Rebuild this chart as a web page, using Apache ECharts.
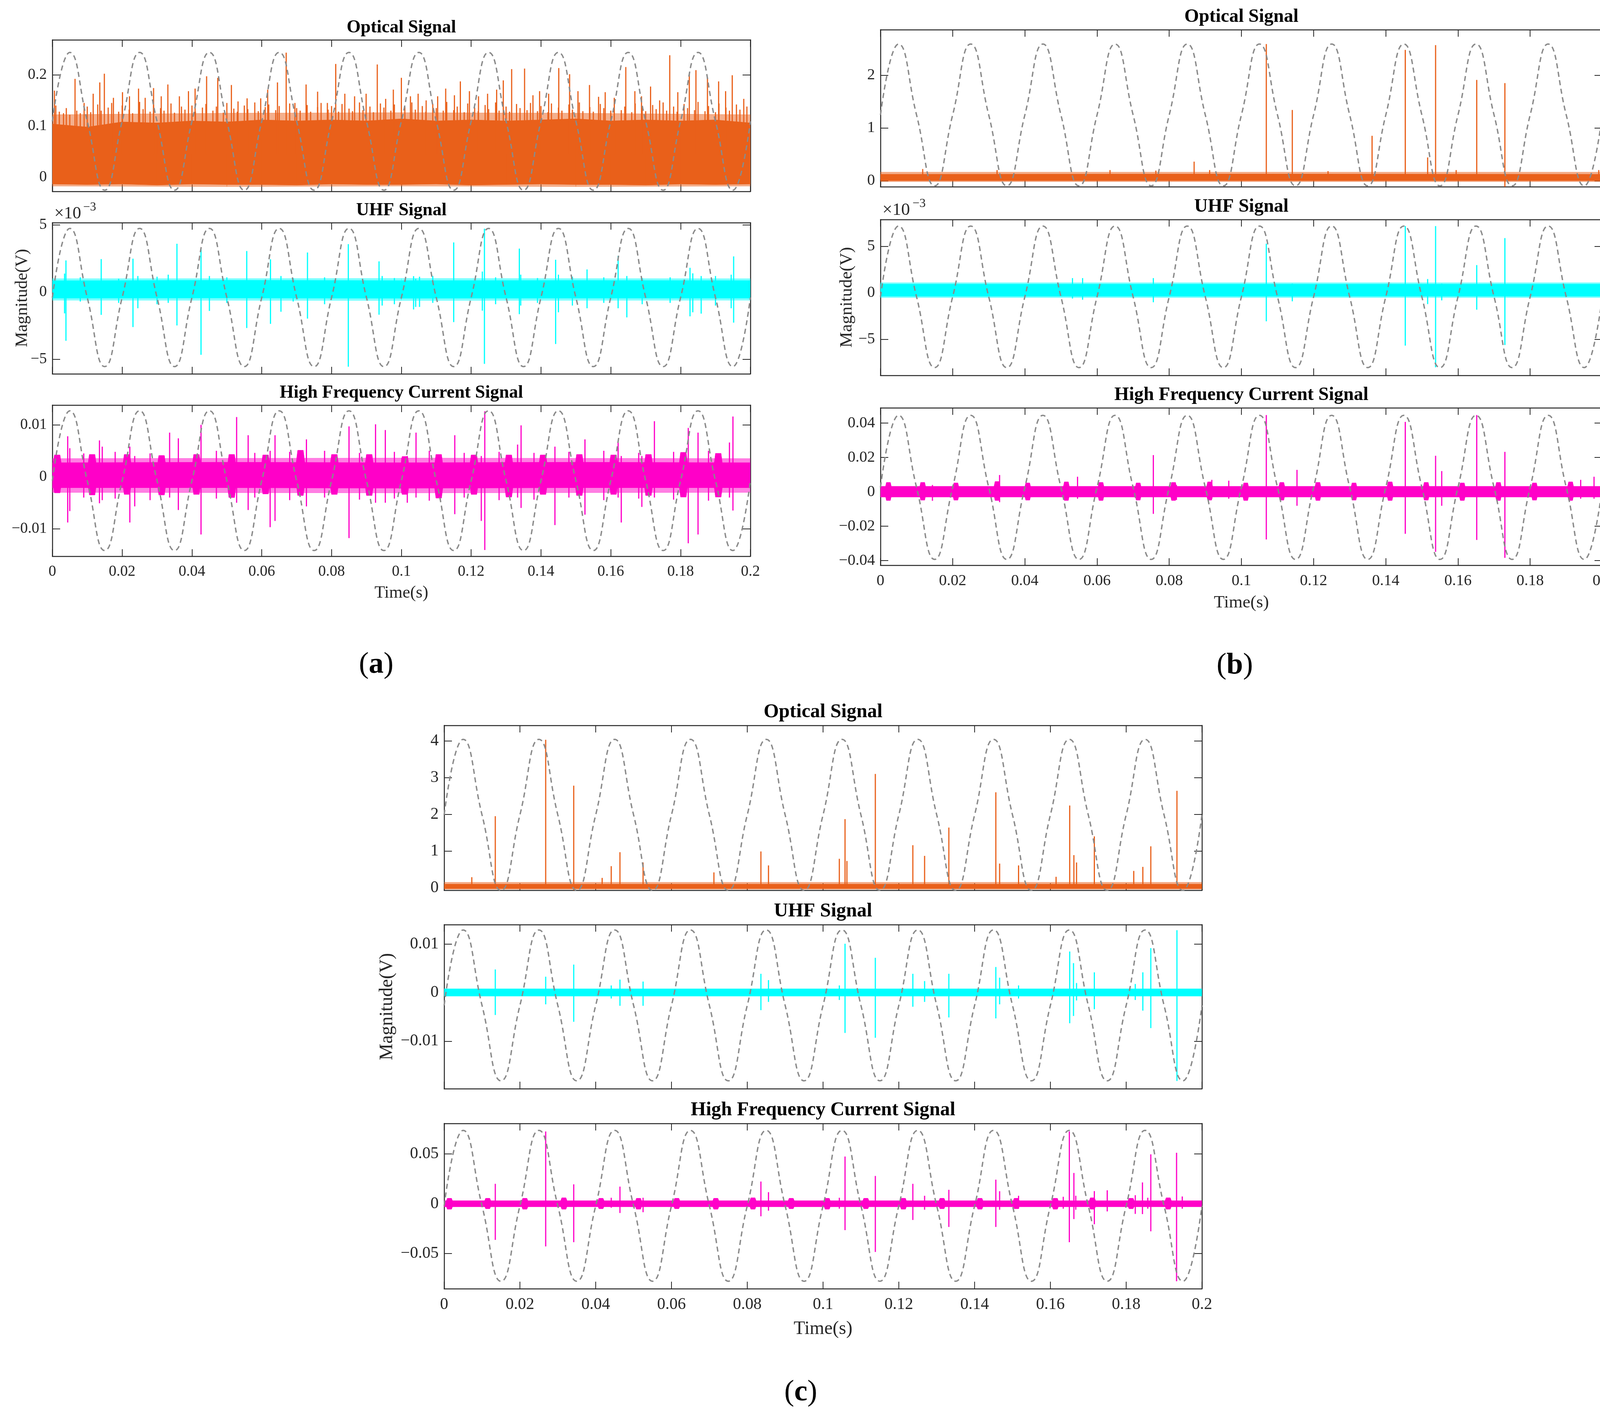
<!DOCTYPE html>
<html>
<head>
<meta charset="utf-8">
<script src="https://cdn.jsdelivr.net/npm/echarts@6/dist/echarts.min.js"></script>
<style>
  html, body { margin: 0; padding: 0; background: #fff; overflow: hidden; }
  #main { width: 4154px; height: 3630px; }
</style>
</head>
<body>
<div id="main"></div>
<script>
// ---- data ----
// x axis (time, s)
var timeTicks = [0, 0.02, 0.04, 0.06, 0.08, 0.1, 0.12, 0.14, 0.16, 0.18, 0.2];

// reference 50 Hz wave: [peak, trough] per panel
var optA_sine = [0.2435, -0.025];
var uhfA_sine = [4.74, -5.54];          // x1e-3
var hfA_sine  = [0.0127, -0.0142];
var optB_sine = [2.59, -0.10];
var uhfB_sine = [7.2, -8.03];           // x1e-3
var hfB_sine  = [0.0445, -0.0393];
var optC_sine = [4.04, -0.07];
var uhfC_sine = [0.01294, -0.01817];
var hfC_sine  = [0.0736, -0.0778];

// y ticks
var optA_ticks = [0, 0.1, 0.2];
var uhfA_ticks = [-5, 0, 5];
var hfA_ticks  = [-0.01, 0, 0.01];
var optB_ticks = [0, 1, 2];
var uhfB_ticks = [-5, 0, 5];
var hfB_ticks  = [-0.04, -0.02, 0, 0.02, 0.04];
var optC_ticks = [0, 1, 2, 3, 4];
var uhfC_ticks = [-0.01, 0, 0.01];
var hfC_ticks  = [-0.05, 0, 0.05];

// noise floor envelope: [t, upper, lower]
var optA_band = [[0,0.104,-0.013],[0.01,0.098,-0.014],[0.02,0.108,-0.013],[0.03,0.106,-0.015],[0.04,0.11,-0.013],
  [0.05,0.108,-0.014],[0.06,0.112,-0.014],[0.07,0.11,-0.015],[0.08,0.112,-0.013],[0.09,0.11,-0.014],[0.1,0.114,-0.014],
  [0.11,0.11,-0.013],[0.12,0.112,-0.015],[0.13,0.11,-0.014],[0.14,0.112,-0.013],[0.15,0.114,-0.014],[0.16,0.11,-0.014],
  [0.17,0.112,-0.015],[0.18,0.11,-0.013],[0.19,0.112,-0.014],[0.2,0.106,-0.013]];
var optA_haze = [[0,0.122,-0.017],[0.05,0.125,-0.018],[0.1,0.126,-0.017],[0.15,0.125,-0.018],[0.2,0.122,-0.017]];
var uhfA_band = [[0,0.85,-0.45],[0.05,0.88,-0.44],[0.1,0.86,-0.46],[0.15,0.87,-0.45],[0.2,0.86,-0.45]];
var uhfA_haze = [[0,1.0,-0.6],[0.1,1.02,-0.62],[0.2,1.0,-0.6]];
var hfA_band  = [[0,0.0027,-0.0021],[0.05,0.0028,-0.0021],[0.1,0.0027,-0.0022],[0.15,0.0028,-0.0021],[0.2,0.0027,-0.0021]];
var hfA_haze  = [[0,0.0035,-0.003],[0.1,0.0036,-0.0031],[0.2,0.0035,-0.003]];
var optB_band = [[0,0.12,0.0],[0.1,0.125,0.0],[0.2,0.12,0.0]];
var optB_haze = [[0,0.16,-0.02],[0.2,0.16,-0.02]];
var uhfB_band = [[0,0.95,-0.35],[0.2,0.95,-0.35]];
var uhfB_haze = [[0,1.1,-0.5],[0.2,1.1,-0.5]];
var hfB_band  = [[0,0.0032,-0.003],[0.2,0.0032,-0.003]];
var optC_band = [[0,0.1,-0.02],[0.2,0.1,-0.02]];
var optC_haze = [[0,0.15,-0.04],[0.2,0.15,-0.04]];
var uhfC_band = [[0,0.0008,-0.0007],[0.2,0.0008,-0.0007]];
var hfC_band  = [[0,0.003,-0.003],[0.2,0.003,-0.003]];

// short bursts of the HF floor near the zero crossings: [t, upper, lower]
var hfA_bursts = [[0.0014,0.0042,-0.0031],[0.0114,0.0043,-0.0035],[0.0214,0.0043,-0.0034],[0.0313,0.0041,-0.0035],
  [0.0413,0.0043,-0.0034],[0.0514,0.0043,-0.004],[0.0611,0.0042,-0.0033],[0.0711,0.0051,-0.0036],[0.0808,0.0043,-0.0034],
  [0.0908,0.0043,-0.0036],[0.101,0.0039,-0.0034],[0.1107,0.0043,-0.0041],[0.1208,0.0042,-0.0034],[0.1308,0.0042,-0.0039],
  [0.1406,0.0042,-0.0034],[0.151,0.0043,-0.0036],[0.1608,0.0042,-0.0034],[0.1708,0.0043,-0.0036],[0.1808,0.0047,-0.0039],
  [0.1908,0.0045,-0.0039]];
var hfB_bursts = [[0.0022,0.0055,-0.005],[0.0117,0.0055,-0.0048],[0.0209,0.0052,-0.0048],[0.0323,0.006,-0.005],
  [0.0408,0.0052,-0.0048],[0.0515,0.0058,-0.005],[0.0611,0.0055,-0.005],[0.0714,0.0052,-0.0048],[0.0812,0.0055,-0.005],
  [0.0912,0.0058,-0.0048],[0.1012,0.0052,-0.005],[0.1112,0.0055,-0.0048],[0.1212,0.0055,-0.005],[0.1312,0.0052,-0.0048],
  [0.1412,0.0058,-0.005],[0.1512,0.0055,-0.0048],[0.1612,0.0052,-0.005],[0.1712,0.0055,-0.005],[0.1812,0.0052,-0.0048],
  [0.1912,0.0058,-0.005]];
var hfC_bursts = [[0.0014,0.0055,-0.0055],[0.0115,0.0055,-0.005],[0.0213,0.0055,-0.0055],[0.0316,0.006,-0.0055],
  [0.0414,0.0055,-0.005],[0.0513,0.0055,-0.0055],[0.0614,0.0055,-0.005],[0.0717,0.0055,-0.0055],[0.0815,0.006,-0.0055],
  [0.0916,0.0055,-0.005],[0.1011,0.0055,-0.0055],[0.1113,0.0055,-0.005],[0.1212,0.0055,-0.0055],[0.1314,0.0055,-0.005],
  [0.1414,0.0055,-0.0055],[0.151,0.0055,-0.005],[0.1613,0.0055,-0.0055],[0.1711,0.006,-0.0055],[0.1813,0.0055,-0.005],
  [0.1911,0.006,-0.0055]];

// discharge pulses: [t, top, bottom] (bottom omitted = inside the floor)
var optA_spikes = [[0.0006,0.169],[0.0032,0.125],[0.0065,0.192],[0.0091,0.145],[0.0117,0.163],[0.0136,0.185],[0.0149,0.202],
  [0.0175,0.155],[0.0201,0.166],[0.0221,0.158],[0.0247,0.173],[0.0266,0.155],[0.029,0.174],[0.0312,0.158],[0.0331,0.181],
  [0.0364,0.158],[0.039,0.168],[0.0409,0.173],[0.0442,0.197],[0.0474,0.194],[0.0513,0.18],[0.0532,0.148],[0.0558,0.154],
  [0.0597,0.154],[0.0617,0.171],[0.0645,0.185],[0.067,0.243],[0.0695,0.145],[0.0727,0.181],[0.076,0.167],[0.0788,0.145],
  [0.0812,0.221],[0.0838,0.163],[0.0866,0.158],[0.0899,0.163],[0.0931,0.22],[0.0955,0.153],[0.0977,0.171],[0.1,0.194],
  [0.1026,0.158],[0.1048,0.163],[0.1071,0.15],[0.1104,0.158],[0.1127,0.173],[0.1152,0.16],[0.1169,0.187],[0.1195,0.168],
  [0.1221,0.158],[0.1247,0.163],[0.1273,0.171],[0.1292,0.189],[0.1316,0.211],[0.1353,0.212],[0.1377,0.16],[0.1396,0.168],
  [0.1422,0.163],[0.1451,0.213],[0.1482,0.201],[0.1506,0.168],[0.1539,0.18],[0.1565,0.157],[0.1584,0.166],[0.161,0.155],
  [0.1643,0.215],[0.1669,0.168],[0.1688,0.158],[0.1714,0.177],[0.174,0.15],[0.1769,0.238],[0.1792,0.166],[0.1825,0.201],
  [0.1844,0.209],[0.1877,0.194],[0.1909,0.187],[0.1929,0.168],[0.1948,0.199],[0.1981,0.153]];
// denser, shorter pulses that make the ragged top of the optical floor in (a)
var optA_fringe = [[0.001,0.14],[0.002,0.128],[0.004,0.135],[0.005,0.122],[0.007,0.13],[0.008,0.125],[0.010,0.138],
  [0.011,0.127],[0.013,0.142],[0.014,0.13],[0.016,0.136],[0.017,0.145],[0.019,0.128],[0.020,0.14],[0.022,0.132],
  [0.023,0.125],[0.025,0.147],[0.026,0.133],[0.028,0.128],[0.029,0.141],[0.031,0.135],[0.032,0.13],[0.034,0.144],
  [0.035,0.126],[0.037,0.138],[0.038,0.132],[0.040,0.14],[0.041,0.128],[0.043,0.136],[0.044,0.143],[0.046,0.13],
  [0.047,0.138],[0.049,0.126],[0.050,0.145],[0.052,0.134],[0.053,0.128],[0.055,0.14],[0.056,0.133],[0.058,0.146],
  [0.059,0.129],[0.061,0.137],[0.062,0.142],[0.064,0.131],[0.065,0.139],[0.067,0.127],[0.068,0.144],[0.070,0.135],
  [0.071,0.13],[0.073,0.141],[0.074,0.128],[0.076,0.137],[0.077,0.145],[0.079,0.132],[0.080,0.139],[0.082,0.128],
  [0.083,0.143],[0.085,0.134],[0.086,0.129],[0.088,0.146],[0.089,0.131],[0.091,0.138],[0.092,0.127],[0.094,0.144],
  [0.095,0.136],[0.097,0.13],[0.098,0.142],[0.100,0.129],[0.101,0.137],[0.103,0.146],[0.104,0.132],[0.106,0.139],
  [0.107,0.128],[0.109,0.143],[0.110,0.135],[0.112,0.13],[0.113,0.147],[0.115,0.131],[0.116,0.138],[0.118,0.127],
  [0.119,0.144],[0.121,0.136],[0.122,0.129],[0.124,0.141],[0.125,0.133],[0.127,0.146],[0.128,0.13],[0.130,0.138],
  [0.131,0.128],[0.133,0.143],[0.134,0.135],[0.136,0.131],[0.137,0.145],[0.139,0.129],[0.140,0.139],[0.142,0.127],
  [0.143,0.144],[0.145,0.136],[0.146,0.13],[0.148,0.142],[0.149,0.132],[0.151,0.146],[0.152,0.129],[0.154,0.137],
  [0.155,0.128],[0.157,0.143],[0.158,0.135],[0.160,0.13],[0.161,0.145],[0.163,0.131],[0.164,0.138],[0.166,0.127],
  [0.167,0.144],[0.169,0.136],[0.170,0.129],[0.172,0.141],[0.173,0.133],[0.175,0.146],[0.176,0.13],[0.178,0.138],
  [0.179,0.128],[0.181,0.143],[0.182,0.135],[0.184,0.131],[0.185,0.147],[0.187,0.129],[0.188,0.139],[0.190,0.127],
  [0.191,0.144],[0.193,0.136],[0.194,0.13],[0.196,0.142],[0.197,0.132],[0.199,0.138]];
var uhfA_spikes = [[0.0035,1.38,-1.58],[0.0039,2.36,-3.62],[0.008,1.1,-0.7],[0.014,2.46,-1.69],[0.019,1.0,-0.8],
  [0.0231,2.49,-2.6],[0.0245,1.2,-1.2],[0.03,1.15,-0.9],[0.0332,1.3,-0.8],[0.0357,3.6,-2.48],[0.0426,3.17,-4.66],
  [0.045,1.2,-1.4],[0.05,1.1,-0.8],[0.0557,3.06,-2.67],[0.0625,2.44,-2.36],[0.0655,1.2,-1.46],[0.069,1.05,-0.7],
  [0.0731,2.95,-1.97],[0.078,1.1,-0.9],[0.0848,3.57,-5.55],[0.0936,2.29,-1.68],[0.0945,1.2,-1.0],[0.098,1.05,-0.9],
  [0.1035,1.19,-1.29],[0.1041,1.0,-1.1],[0.1052,1.15,-1.1],[0.109,1.2,-0.8],[0.115,3.7,-2.23],[0.1232,1.53,-1.38],
  [0.1238,4.72,-5.34],[0.127,1.1,-0.9],[0.1338,3.24,-1.64],[0.1342,1.3,-1.0],[0.139,1.05,-0.8],[0.1442,2.41,-3.86],
  [0.145,1.3,-1.5],[0.149,1.15,-1.0],[0.1532,1.69,-1.2],[0.158,1.1,-0.8],[0.1621,2.7,-1.2],[0.1646,1.2,-1.88],
  [0.169,1.05,-0.9],[0.177,1.1,-0.8],[0.1827,1.81,-1.8],[0.1835,1.4,-1.5],[0.1859,1.2,-1.6],[0.19,1.2,-1.0],
  [0.1945,1.3,-1.2],[0.1952,2.66,-2.27]];
var hfA_spikes = [[0.0044,0.0078,-0.0088],[0.005,0.0055,-0.0066],[0.009,0.0045,-0.004],[0.0135,0.007,-0.0051],
  [0.0143,0.0058,-0.0045],[0.018,0.0048,-0.0042],[0.0222,0.0058,-0.0088],[0.0236,0.004,-0.0057],[0.028,0.0045,-0.0045],
  [0.0336,0.0085,-0.004],[0.0361,0.0074,-0.0064],[0.0426,0.01,-0.0111],[0.047,0.005,-0.0042],[0.0528,0.0115,-0.005],
  [0.0561,0.008,-0.0064],[0.058,0.0046,-0.004],[0.0624,0.005,-0.0097],[0.0638,0.008,-0.0085],[0.068,0.0048,-0.0045],
  [0.0728,0.0072,-0.0057],[0.078,0.005,-0.004],[0.085,0.0097,-0.0118],[0.088,0.0046,-0.0044],[0.0926,0.0101,-0.005],
  [0.0954,0.009,-0.005],[0.098,0.0048,-0.0042],[0.1017,0.004,-0.005],[0.1042,0.0085,-0.004],[0.108,0.005,-0.0046],
  [0.1153,0.008,-0.0072],[0.118,0.0046,-0.004],[0.1229,0.004,-0.0085],[0.1239,0.0126,-0.0141],[0.128,0.0048,-0.0045],
  [0.1333,0.0062,-0.004],[0.1343,0.0099,-0.006],[0.138,0.0046,-0.0044],[0.144,0.0058,-0.0093],[0.148,0.0048,-0.004],
  [0.1526,0.0072,-0.0073],[0.158,0.005,-0.0045],[0.1621,0.0066,-0.004],[0.163,0.004,-0.0088],[0.168,0.0046,-0.0042],
  [0.1689,0.004,-0.0058],[0.1725,0.0107,-0.004],[0.178,0.0048,-0.0044],[0.1822,0.0094,-0.0128],[0.185,0.0085,-0.0111],
  [0.188,0.005,-0.0046],[0.194,0.0066,-0.004],[0.195,0.0116,-0.0065]];
var optB_spikes = [[0.0117,0.22],[0.0323,0.2],[0.0636,0.2],[0.0763,0.19],[0.0869,0.36],[0.0912,0.2],[0.1069,2.59],
  [0.1141,1.34],[0.124,0.18],[0.1362,0.85],[0.1454,2.48],[0.1516,0.44],[0.1538,2.57],[0.1595,0.2],[0.1652,1.91],
  [0.173,1.85,-0.13],[0.199,0.2]];
var uhfB_spikes = [[0.0532,1.6,-0.6],[0.056,1.6,-0.73],[0.0756,1.6,-1.0],[0.1069,5.3,-3.05],[0.1141,1.0,-0.9],
  [0.1454,7.2,-5.67],[0.1516,1.5,-1.2],[0.1538,7.2,-8.0],[0.1555,1.0,-0.8],[0.1652,3.0,-1.8],[0.173,5.9,-5.6]];
var hfB_spikes = [[0.0144,0.004,-0.0052],[0.033,0.0098,-0.006],[0.0546,0.0088,-0.004],[0.0756,0.0214,-0.0128],
  [0.082,0.004,-0.0047],[0.0918,0.007,-0.004],[0.0965,0.0065,-0.004],[0.1069,0.0447,-0.0277],[0.1154,0.0128,-0.0081],
  [0.1454,0.0407,-0.0244],[0.1538,0.021,-0.0349],[0.1555,0.0121,-0.0081],[0.1652,0.0447,-0.028],[0.173,0.0233,-0.0384],
  [0.194,0.007,-0.004],[0.1977,0.0088,-0.004]];
var optC_spikes = [[0.0073,0.29],[0.0135,1.95],[0.0268,4.03],[0.0342,2.78,-0.066],[0.0417,0.27],[0.0441,0.59],
  [0.0464,0.97],[0.0525,0.69],[0.0712,0.42],[0.0836,0.99],[0.0856,0.61],[0.1043,0.79],[0.1058,1.87],[0.1063,0.73],
  [0.1138,3.1],[0.1237,1.16],[0.1268,0.87],[0.1332,1.64],[0.1456,2.6],[0.1466,0.66],[0.1516,0.61],[0.1615,0.3],
  [0.1651,2.24],[0.1662,0.89],[0.1669,0.69],[0.1716,1.4],[0.182,0.46],[0.1844,0.57],[0.1865,1.13],[0.1934,2.64]];
var uhfC_spikes = [[0.0135,0.0048,-0.0046],[0.0268,0.0033,-0.0024],[0.0342,0.0058,-0.006],[0.0441,0.0015,-0.0012],
  [0.0464,0.0027,-0.0027],[0.0525,0.0023,-0.0027],[0.0836,0.0039,-0.0036],[0.0856,0.0026,-0.0019],[0.1043,0.0015,-0.0015],
  [0.1058,0.0101,-0.0083],[0.1138,0.0072,-0.0093],[0.1237,0.0039,-0.0029],[0.1268,0.0024,-0.0019],[0.1332,0.0039,-0.0051],
  [0.1456,0.0053,-0.0053],[0.1466,0.0031,-0.0024],[0.1516,0.0015,-0.0012],[0.1651,0.0085,-0.0063],[0.1661,0.0061,-0.0048],
  [0.1669,0.002,-0.0016],[0.1716,0.0042,-0.0034],[0.1824,0.0018,-0.0015],[0.1844,0.0042,-0.0037],[0.1865,0.0092,-0.0073],
  [0.1934,0.0129,-0.0182]];
var hfC_spikes = [[0.0135,0.02,-0.0363],[0.0268,0.0726,-0.0428],[0.0342,0.0195,-0.0386],[0.0441,0.006,-0.004],
  [0.0464,0.0172,-0.0093],[0.0525,0.006,-0.0085],[0.0836,0.0223,-0.0126],[0.0856,0.0116,-0.007],[0.1043,0.006,-0.005],
  [0.1058,0.0474,-0.0265],[0.1138,0.0279,-0.0484],[0.1237,0.02,-0.0163],[0.1268,0.008,-0.006],[0.1332,0.014,-0.0233],
  [0.1456,0.0242,-0.0233],[0.1466,0.0126,-0.006],[0.1516,0.008,-0.005],[0.1634,0.007,-0.005],[0.165,0.0726,-0.0386],
  [0.1662,0.0309,-0.0154],[0.1667,0.008,-0.006],[0.1716,0.0127,-0.0206],[0.175,0.0135,-0.0077],[0.1824,0.0086,-0.0102],
  [0.1843,0.0214,-0.0104],[0.1857,0.006,-0.005],[0.1865,0.0496,-0.0277],[0.1933,0.0512,-0.0778],[0.1948,0.0073,-0.005]];

// ---- styling / layout ----
var FONT = '"Liberation Serif", "Times New Roman", serif';
var INK = '#262626';
var ORANGE = '#E9601A', CYAN = '#00FFFF', MAGENTA = '#FF00C8';

// fs: text scale of each sub-figure (b and c were pasted in larger)
var panels = [
  { left: 134, top: 102, width: 1787, height: 388, fs: 1, min: -0.0274, max: 0.268, title: 'Optical Signal', color: ORANGE,
    ticks: optA_ticks, sine: optA_sine, band: optA_band, haze: optA_haze, spikes: optA_spikes, fringe: optA_fringe },
  { left: 134, top: 570, width: 1787, height: 387, fs: 1, min: -6.08, max: 5.17, title: 'UHF Signal', color: CYAN,
    ticks: uhfA_ticks, sine: uhfA_sine, band: uhfA_band, haze: uhfA_haze, spikes: uhfA_spikes, exp: true, ylabel: [57, 763] },
  { left: 134, top: 1037, width: 1787, height: 387, fs: 1, min: -0.0153, max: 0.0138, title: 'High Frequency Current Signal', color: MAGENTA,
    ticks: hfA_ticks, sine: hfA_sine, band: hfA_band, haze: hfA_haze, bursts: hfA_bursts, burstHalf: 0.0016,
    spikes: hfA_spikes, xlab: true, xname: 1518 },
  { left: 2254, top: 76, width: 1848, height: 402, fs: 1.034, min: -0.116, max: 2.863, title: 'Optical Signal', color: ORANGE,
    ticks: optB_ticks, sine: optB_sine, band: optB_band, haze: optB_haze, spikes: optB_spikes },
  { left: 2254, top: 562, width: 1848, height: 399, fs: 1.034, min: -8.87, max: 7.9, title: 'UHF Signal', color: CYAN,
    ticks: uhfB_ticks, sine: uhfB_sine, band: uhfB_band, haze: uhfB_haze, spikes: uhfB_spikes, exp: true, ylabel: [2168, 761] },
  { left: 2254, top: 1044, width: 1848, height: 403, fs: 1.034, min: -0.0427, max: 0.0489, title: 'High Frequency Current Signal', color: MAGENTA,
    ticks: hfB_ticks, sine: hfB_sine, band: hfB_band, bursts: hfB_bursts, burstHalf: 0.0011,
    spikes: hfB_spikes, xlab: true, xname: 1543 },
  { left: 1137, top: 1857, width: 1940, height: 422, fs: 1.086, min: -0.066, max: 4.42, title: 'Optical Signal', color: ORANGE,
    ticks: optC_ticks, sine: optC_sine, band: optC_band, haze: optC_haze, spikes: optC_spikes },
  { left: 1137, top: 2367, width: 1940, height: 420, fs: 1.086, min: -0.0198, max: 0.01404, title: 'UHF Signal', color: CYAN,
    ticks: uhfC_ticks, sine: uhfC_sine, band: uhfC_band, spikes: uhfC_spikes, ylabel: [991, 2577] },
  { left: 1137, top: 2876, width: 1940, height: 423, fs: 1.086, min: -0.0853, max: 0.0806, title: 'High Frequency Current Signal', color: MAGENTA,
    ticks: hfC_ticks, sine: hfC_sine, band: hfC_band, bursts: hfC_bursts, burstHalf: 0.0011,
    spikes: hfC_spikes, xlab: true, xname: 3402 }
];

var panelLabels = [['a', 963, 1702], ['b', 3161, 1704], ['c', 2050, 3565]];

function fmtY(v) {
  var s = String(+v.toFixed(4));
  return v < 0 ? '\u2212' + s.slice(1) : s;
}
function fmtX(v) { return String(+v.toFixed(2)); }

function sinePoints(sv) {
  var mid = (sv[0] + sv[1]) / 2, pts = [];
  for (var k = 0; k < timeTicks.length * 4 - 3; k++) {
    var ph = k % 4;
    pts.push([k * 0.005, ph === 1 ? sv[0] : (ph === 3 ? sv[1] : mid)]);
  }
  return pts;
}

function bandSeries(nodes, gi, color, opacity) {
  var segs = [];
  for (var i = 0; i < nodes.length - 1; i++) segs.push(nodes[i].concat(nodes[i + 1]));
  return {
    type: 'custom', xAxisIndex: gi * 2, yAxisIndex: gi * 2, clip: true, silent: true, z: 2,
    data: segs, encode: { x: [0, 3], y: [1, 2, 4, 5] },
    renderItem: function (params, api) {
      var a = api.coord([api.value(0), api.value(1)]);
      var b = api.coord([api.value(3), api.value(4)]);
      var c = api.coord([api.value(3), api.value(5)]);
      var d = api.coord([api.value(0), api.value(2)]);
      return { type: 'polygon', shape: { points: [a, b, c, d] },
        style: { fill: color, stroke: color, lineWidth: 1, opacity: opacity } };
    }
  };
}

function burstSeries(list, gi, color, half) {
  return {
    type: 'custom', xAxisIndex: gi * 2, yAxisIndex: gi * 2, clip: true, silent: true, z: 2,
    data: list, encode: { x: 0, y: [1, 2] },
    renderItem: function (params, api) {
      var t = api.value(0), up = api.value(1), lo = api.value(2), mid = (up + lo) / 2;
      var pts = [
        api.coord([t - half, mid]), api.coord([t - half * 0.5, up]),
        api.coord([t + half * 0.5, up]), api.coord([t + half, mid]),
        api.coord([t + half * 0.5, lo]), api.coord([t - half * 0.5, lo])
      ];
      return { type: 'polygon', shape: { points: pts }, style: { fill: color, stroke: color, lineWidth: 1 } };
    }
  };
}

function spikeSeries(list, gi, color, base, width) {
  var data = list.map(function (s) { return [s[0], s[1], s.length > 2 ? s[2] : base]; });
  return {
    type: 'custom', xAxisIndex: gi * 2, yAxisIndex: gi * 2, clip: true, silent: true, z: 3,
    data: data, encode: { x: 0, y: [1, 2] },
    renderItem: function (params, api) {
      var a = api.coord([api.value(0), api.value(1)]);
      var b = api.coord([api.value(0), api.value(2)]);
      return { type: 'line', shape: { x1: a[0], y1: a[1], x2: b[0], y2: b[1] },
        style: { stroke: color, lineWidth: width } };
    }
  };
}

function centred(x, y, text, font, extra) {
  var el = { type: 'text', x: x, y: y, z: 10,
    style: { text: text, font: font, fill: INK,
      align: 'center', verticalAlign: 'middle', textAlign: 'center', textVerticalAlign: 'middle' } };
  if (extra) for (var k in extra) el[k] = extra[k];
  return el;
}

var axisLine = { show: true, onZero: false, lineStyle: { color: INK, width: 2.5 } };
var grids = [], xAxes = [], yAxes = [], series = [], graphics = [];

panels.forEach(function (p, i) {
  var tickFont = Math.round(39 * p.fs), labFont = Math.round(44 * p.fs), titleFont = Math.round(46 * p.fs);
  grids.push({ left: p.left, top: p.top, width: p.width, height: p.height, show: false });
  xAxes.push({
    type: 'value', gridIndex: i, position: 'bottom', min: 0, max: 0.2, interval: 0.02,
    axisLine: axisLine, splitLine: { show: false },
    axisTick: { show: true, inside: true, length: 18, lineStyle: { color: INK, width: 2 } },
    axisLabel: { show: !!p.xlab, margin: 20, fontFamily: FONT, fontSize: tickFont, color: INK,
      showMinLabel: true, showMaxLabel: true, formatter: fmtX }
  });
  xAxes.push({
    type: 'value', gridIndex: i, position: 'top', min: 0, max: 0.2, interval: 0.02,
    axisLine: axisLine, splitLine: { show: false },
    axisTick: { show: true, inside: true, length: 18, lineStyle: { color: INK, width: 2 } },
    axisLabel: { show: false }
  });
  yAxes.push({
    type: 'value', gridIndex: i, position: 'left', min: p.min, max: p.max,
    axisLine: axisLine, splitLine: { show: false },
    axisTick: { show: true, inside: true, length: 20, customValues: p.ticks, lineStyle: { color: INK, width: 2 } },
    axisLabel: { show: true, margin: 14, fontFamily: FONT, fontSize: tickFont, color: INK,
      customValues: p.ticks, formatter: fmtY }
  });
  yAxes.push({
    type: 'value', gridIndex: i, position: 'right', min: p.min, max: p.max,
    axisLine: axisLine, splitLine: { show: false },
    axisTick: { show: true, inside: true, length: 20, customValues: p.ticks, lineStyle: { color: INK, width: 2 } },
    axisLabel: { show: false }
  });

  var base = (p.band[0][1] + p.band[0][2]) / 2;
  if (p.haze) series.push(bandSeries(p.haze, i, p.color, 0.5));
  series.push(bandSeries(p.band, i, p.color, 1));
  if (p.bursts) series.push(burstSeries(p.bursts, i, p.color, p.burstHalf));
  if (p.fringe) series.push(spikeSeries(p.fringe, i, p.color, base, 3));
  series.push(spikeSeries(p.spikes, i, p.color, base, 3));
  series.push({
    type: 'line', xAxisIndex: i * 2, yAxisIndex: i * 2, data: sinePoints(p.sine),
    smooth: true, symbol: 'none', silent: true, z: 5,
    lineStyle: { color: '#8a8a8a', width: 3.5, type: [13, 9] }
  });

  var cx = p.left + p.width / 2;
  var title = centred(cx, p.top - 31 * p.fs, p.title, 'bold ' + titleFont + 'px ' + FONT);
  title.style.fill = '#000';
  graphics.push(title);
  if (p.exp) {
    graphics.push({ type: 'text', x: p.left + 5, y: p.top - 23 * p.fs, z: 10,
      style: { text: '\u00d710', font: labFont + 'px ' + FONT, fill: INK,
        align: 'left', verticalAlign: 'middle', textAlign: 'left', textVerticalAlign: 'middle' } });
    graphics.push({ type: 'text', x: p.left + 79 * p.fs, y: p.top - 39 * p.fs, z: 10,
      style: { text: '\u22123', font: Math.round(31 * p.fs) + 'px ' + FONT, fill: INK,
        align: 'left', verticalAlign: 'middle', textAlign: 'left', textVerticalAlign: 'middle' } });
  }
  if (p.ylabel) {
    graphics.push(centred(p.ylabel[0], p.ylabel[1], 'Magnitude(V)', labFont + 'px ' + FONT, { rotation: Math.PI / 2 }));
  }
  if (p.xname) {
    graphics.push(centred(cx, p.xname, 'Time(s)', labFont + 'px ' + FONT));
  }
});

panelLabels.forEach(function (l) {
  graphics.push({ type: 'text', x: l[1], y: l[2], z: 10,
    style: { text: '{p|(}{b|' + l[0] + '}{p|)}', fill: '#000',
      align: 'center', verticalAlign: 'middle', textAlign: 'center', textVerticalAlign: 'middle',
      rich: { p: { font: '76px ' + FONT, fill: '#000' }, b: { font: 'bold 76px ' + FONT, fill: '#000' } } } });
});

var chart = echarts.init(document.getElementById('main'), null, { renderer: 'canvas', devicePixelRatio: 1 });
chart.setOption({
  backgroundColor: '#fff',
  animation: false,
  grid: grids,
  xAxis: xAxes,
  yAxis: yAxes,
  series: series,
  graphic: graphics
});
</script>
</body>
</html>
